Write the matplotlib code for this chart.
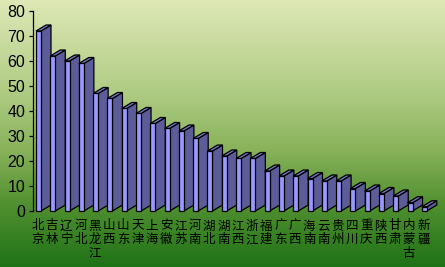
import numpy as np
import matplotlib
matplotlib.use("Agg")
import matplotlib.pyplot as plt
from matplotlib.patches import Polygon
from matplotlib import transforms

plt.rcParams['font.family'] = ['Noto Sans CJK SC', 'DejaVu Sans']

# 省份和数值
provinces = ['北京', '吉林', '辽宁', '河北', '黑龙江', '山西', '山东', '天津', '上海', '安徽',
             '江苏', '河南', '湖北', '湖南', '江西', '浙江', '福建', '广东', '广西', '海南',
             '云南', '贵州', '四川', '重庆', '陕西', '甘肃', '内蒙古', '新疆']
values = [72, 62, 60, 59, 47, 45, 41, 39, 35, 33, 32, 29, 24, 22, 21, 21, 16, 14, 14, 13,
          12, 12, 9, 8, 7, 6, 3.3, 1.7]
yticks = [0, 10, 20, 30, 40, 50, 60, 70, 80]

W, H = 445, 267
fig = plt.figure(figsize=(W / 100, H / 100), dpi=100)

# 背景渐变
bg = fig.add_axes([0, 0, 1, 1])
stops_y = [0, 90, 150, 200, 267]
stops_c = np.array([[222, 232, 182], [176, 204, 132], [136, 178, 90], [84, 146, 50], [30, 114, 22]]) / 255
yy = np.arange(H)
grad = np.stack([np.interp(yy, stops_y, stops_c[:, k]) for k in range(3)], axis=1)
img = np.repeat(grad[:, None, :], W, axis=1)
bg.imshow(img, aspect='auto', extent=[0, W, H, 0])
bg.axis('off')

# 绘图区 (像素)
left, right = 33, 445
y0, y80 = 211, 11
pitch = 14.29
ax = fig.add_axes([left / W, (H - y0) / H, (right - left) / W, (y0 - y80) / H])
ax.patch.set_alpha(0)
xmin = -3 / pitch
ax.set_xlim(xmin, xmin + (right - left) / pitch)
ax.set_ylim(0, 80)

w = 5 / pitch
dx = 10 / pitch
dy = 6 / 2.5
front_c = '#9999ff'
side_c = '#5c5c98'
top_c = '#7878c4'

for i, v in enumerate(values):
    x0 = i
    front = [(x0, 0), (x0 + w, 0), (x0 + w, v), (x0, v)]
    side = [(x0 + w, 0), (x0 + w + dx, dy), (x0 + w + dx, v + dy), (x0 + w, v)]
    top = [(x0, v), (x0 + w, v), (x0 + w + dx, v + dy), (x0 + dx, v + dy)]
    for pts, c in [(side, side_c), (top, top_c), (front, front_c)]:
        ax.add_patch(Polygon(pts, closed=True, facecolor=c, edgecolor='black',
                             linewidth=0.9, clip_on=False, zorder=2 + i * 0.01))

for s in ['top', 'right', 'bottom']:
    ax.spines[s].set_visible(False)
ax.spines['left'].set_linewidth(0.9)
ax.set_xticks([])
ax.set_yticks(yticks)
ax.tick_params(axis='y', length=3, width=0.9, pad=2.5, labelsize=11.5)
for t in ax.get_yticklabels():
    t.set_fontfamily('Liberation Sans')

# 竖排省份名
trans = transforms.blended_transform_factory(ax.transData, fig.transFigure)
for i, name in enumerate(provinces):
    for j, ch in enumerate(name):
        ypix = 226 + j * 13.5
        ax.text(i + w / 2 - 1 / pitch, (H - ypix) / H, ch, transform=trans,
                ha='center', va='center', fontsize=9, color='black')

fig.savefig('out.png', dpi=100)
